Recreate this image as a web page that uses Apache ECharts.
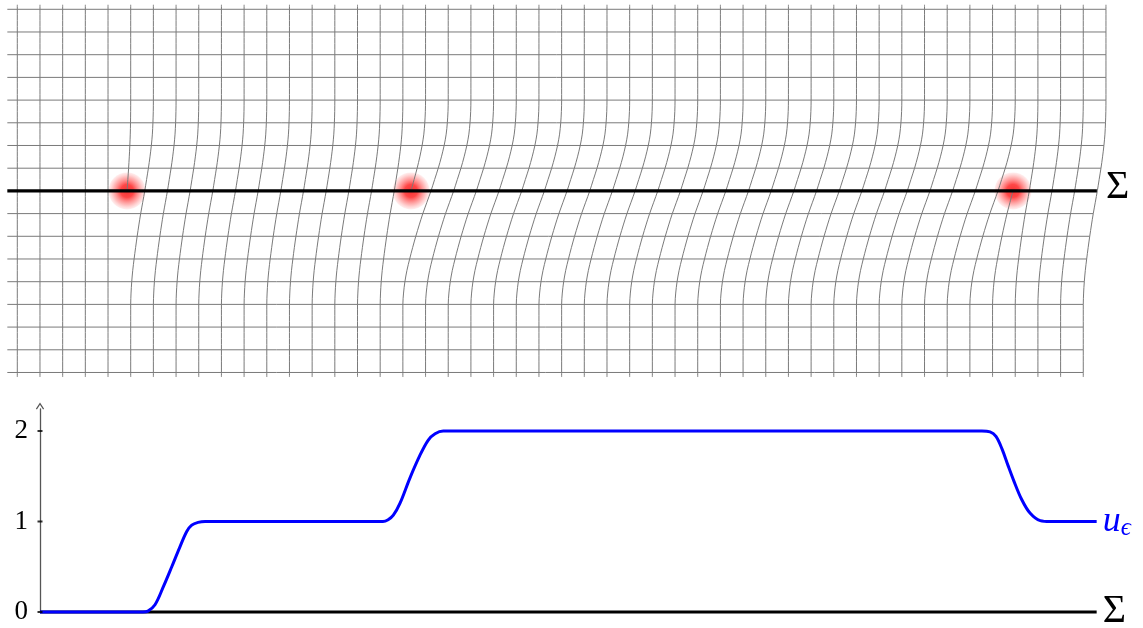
<!DOCTYPE html>
<html><head><meta charset="utf-8">
<script src="https://cdn.jsdelivr.net/npm/echarts@6/dist/echarts.min.js"></script>
<style>html,body{margin:0;padding:0;background:#fff}#c{width:1143px;height:628px}</style>
</head><body><div id="c"></div>
<script>
// ---------- data (grid units: one cell = 1) ----------
// vertical shape profile of the deformed grid lines: fraction of the shift reached at each height
const profileY = [8.2, 8, 7, 6, 5, 4, 3.5, 3, 2.5, 2, 1.5, 1, 0.5, 0, -0.5, -1, -1.5, -2, -2.5, -3, -3.5, -4, -4.5, -5, -6, -7, -8, -8.2];
const profileS = [1, 1, 1, 1, 1, 1, 0.995, 0.98, 0.955, 0.91, 0.85, 0.78, 0.70, 0.62, 0.53, 0.44, 0.36, 0.285, 0.215, 0.15, 0.09, 0.045, 0.015, 0, 0, 0, 0, 0];
// horizontal grid line levels
const gridLevels = [-8, -7, -6, -5, -4, -3, -2, -1, 0, 1, 2, 3, 4, 5, 6, 7, 8];
// shift (in cells) between bottom and top end of each vertical line; null = half line ending at a dislocation
const bottomLineShift = [0, 0, 0, 0, 0,
  1, 1, 1, 1, 1, 1, 1, 1, 1, 1, 1, 1,
  2, 2, 2, 2, 2, 2, 2, 2, 2, 2, 2, 2, 2, 2, 2, 2, 2, 2, 2, 2, 2, 2, 2, 2, 2, 2,
  null, 1, 1, 1, 1];
// extra half lines (grid index) and the side they come from
const halfLineIndex = [5, 18, 43];
const halfLineSide = ['top', 'top', 'bottom'];
// dislocation positions on Σ
const dislocX = [4.84, 17.36, 43.9];
// u_epsilon along Σ
const uX =   [1.0, 5.54, 5.76, 6.07, 6.44, 6.81, 7.17, 7.47, 7.69, 7.97, 8.28, 16.12, 16.35, 16.58, 16.87, 17.31, 17.75, 18.12, 18.42, 18.78, 42.53, 42.89, 43.15, 43.42, 43.68, 43.92, 44.29, 44.66, 45.10, 45.54, 47.59];
const uVal = [0,   0,    0.01, 0.08, 0.28, 0.50, 0.72, 0.89, 0.96, 0.99, 1.0,  1.0,   1.02,  1.07,  1.20,  1.48,  1.73,  1.90,  1.97,  2.0,   2.0,   1.99,  1.94,  1.80,  1.62,  1.46,  1.24,  1.09,  1.01,  1.0,   1.0];
const yTicks = [0, 1, 2];
const sigmaEnd = 47.6;
const lineStart = -0.44;

// ---------- build ----------
const S = y => { const i = profileY.indexOf(y); return profileS[i]; };
const S0 = S(0);
const gridColor = '#7a7a7a';
const series = [];
const lineBase = {type: 'line', symbol: 'none', silent: true, animation: false, clip: false, xAxisIndex: 0, yAxisIndex: 0};

// dislocation cores (under the lines)
series.push({type: 'scatter', xAxisIndex: 0, yAxisIndex: 0, silent: true, animation: false, z: 1,
  symbolSize: 37,
  data: dislocX.map(x => [x, 0]),
  itemStyle: {color: {type: 'radial', x: 0.5, y: 0.5, r: 0.5, colorStops: [
    {offset: 0, color: 'rgba(240,0,0,1)'}, {offset: 0.35, color: 'rgba(255,0,0,0.9)'}, {offset: 0.75, color: 'rgba(255,60,60,0.45)'}, {offset: 1, color: 'rgba(255,120,120,0.15)'}]}}
});

// horizontal lines
gridLevels.forEach(L => {
  if (L === 0) return;
  series.push(Object.assign({}, lineBase, {z: 2, data: [[lineStart, L], [47 + S(L), L]],
    lineStyle: {color: gridColor, width: 1}}));
});

// vertical full lines
bottomLineShift.forEach((u, k) => {
  if (u === null) return;
  series.push(Object.assign({}, lineBase, {z: 2, smooth: 0.3,
    data: profileY.map((y, i) => [k + u * profileS[i], y]),
    lineStyle: {color: gridColor, width: 1}}));
});

// half lines ending at dislocations
halfLineIndex.forEach((j, n) => {
  const d = dislocX[n];
  let pts;
  if (halfLineSide[n] === 'top') {
    pts = profileY.map((y, i) => y >= 0 ? [j + (d - j) * (1 - profileS[i]) / (1 - S0), y] : null).filter(Boolean);
  } else {
    pts = profileY.map((y, i) => y <= 0 ? [j + (d - j) * profileS[i] / S0, y] : null).filter(Boolean);
  }
  series.push(Object.assign({}, lineBase, {z: 2, smooth: 0.3, data: pts, lineStyle: {color: gridColor, width: 1}}));
});

// Σ line (top)
series.push(Object.assign({}, lineBase, {z: 3, data: [[lineStart, 0], [sigmaEnd, 0]],
  lineStyle: {color: '#000', width: 3.2},
  endLabel: {show: true, formatter: 'Σ', distance: 9, fontFamily: 'Liberation Serif', fontSize: 40, color: '#000', offset: [0, -3]}}));

// bottom panel
series.push({type: 'line', xAxisIndex: 1, yAxisIndex: 1, symbol: 'none', silent: true, animation: false, clip: false, z: 3,
  data: [[1, 0], [uX[uX.length - 1], 0]],
  lineStyle: {color: '#000', width: 3},
  endLabel: {show: true, formatter: 'Σ', distance: 6, fontFamily: 'Liberation Serif', fontSize: 40, color: '#000', offset: [0, -1]}});
series.push({type: 'line', xAxisIndex: 1, yAxisIndex: 1, symbol: 'none', silent: true, animation: false, clip: false, z: 4,
  smooth: 0.35,
  data: uX.map((x, i) => [x, uVal[i]]),
  lineStyle: {color: '#0000ff', width: 3},
  endLabel: {show: true, distance: 6, formatter: '{u|u}{s|ϵ}',
    rich: {u: {fontFamily: 'Liberation Serif', fontStyle: 'italic', fontSize: 36, color: '#0000ff'},
           s: {fontFamily: 'Liberation Serif', fontStyle: 'italic', fontSize: 25, color: '#0000ff', padding: [14, 0, 0, 0]}}}});
series.push({type: 'scatter', xAxisIndex: 1, yAxisIndex: 1, silent: true, animation: false, z: 5,
  symbol: 'rect', symbolSize: [5, 2], data: yTicks.map(t => [1, t]), itemStyle: {color: '#000'}});

const chart = echarts.init(document.getElementById('c'), null, {renderer: 'canvas'});
chart.setOption({
  animation: false,
  backgroundColor: '#fff',
  grid: [
    {left: 5.96, right: 25.7, top: 2.49, bottom: 248.7},
    {left: 40, right: 25.7, top: 409, bottom: 16}
  ],
  xAxis: [
    {type: 'value', gridIndex: 0, min: -0.5, max: 48.5, show: false},
    {type: 'value', gridIndex: 1, min: 1, max: 48.5, show: false}
  ],
  yAxis: [
    {type: 'value', gridIndex: 0, min: -8.3, max: 8.3, show: false},
    {type: 'value', gridIndex: 1, min: 0, max: 2.243, interval: 1,
      axisLine: {show: true, symbol: ['none', 'path://M0,6 L4,0 L8,6 L7,6.8 L4,2.2 L1,6.8 Z'], symbolSize: [9, 7], symbolOffset: [0, 3],
        lineStyle: {color: '#555', width: 1.3}},
      axisTick: {show: false}, splitLine: {show: false},
      axisLabel: {margin: 12, color: '#000', fontFamily: 'Liberation Serif', fontSize: 27,
        formatter: v => yTicks.indexOf(v) >= 0 ? String(v) : ''}}
  ],
  series: series
});
</script></body></html>
